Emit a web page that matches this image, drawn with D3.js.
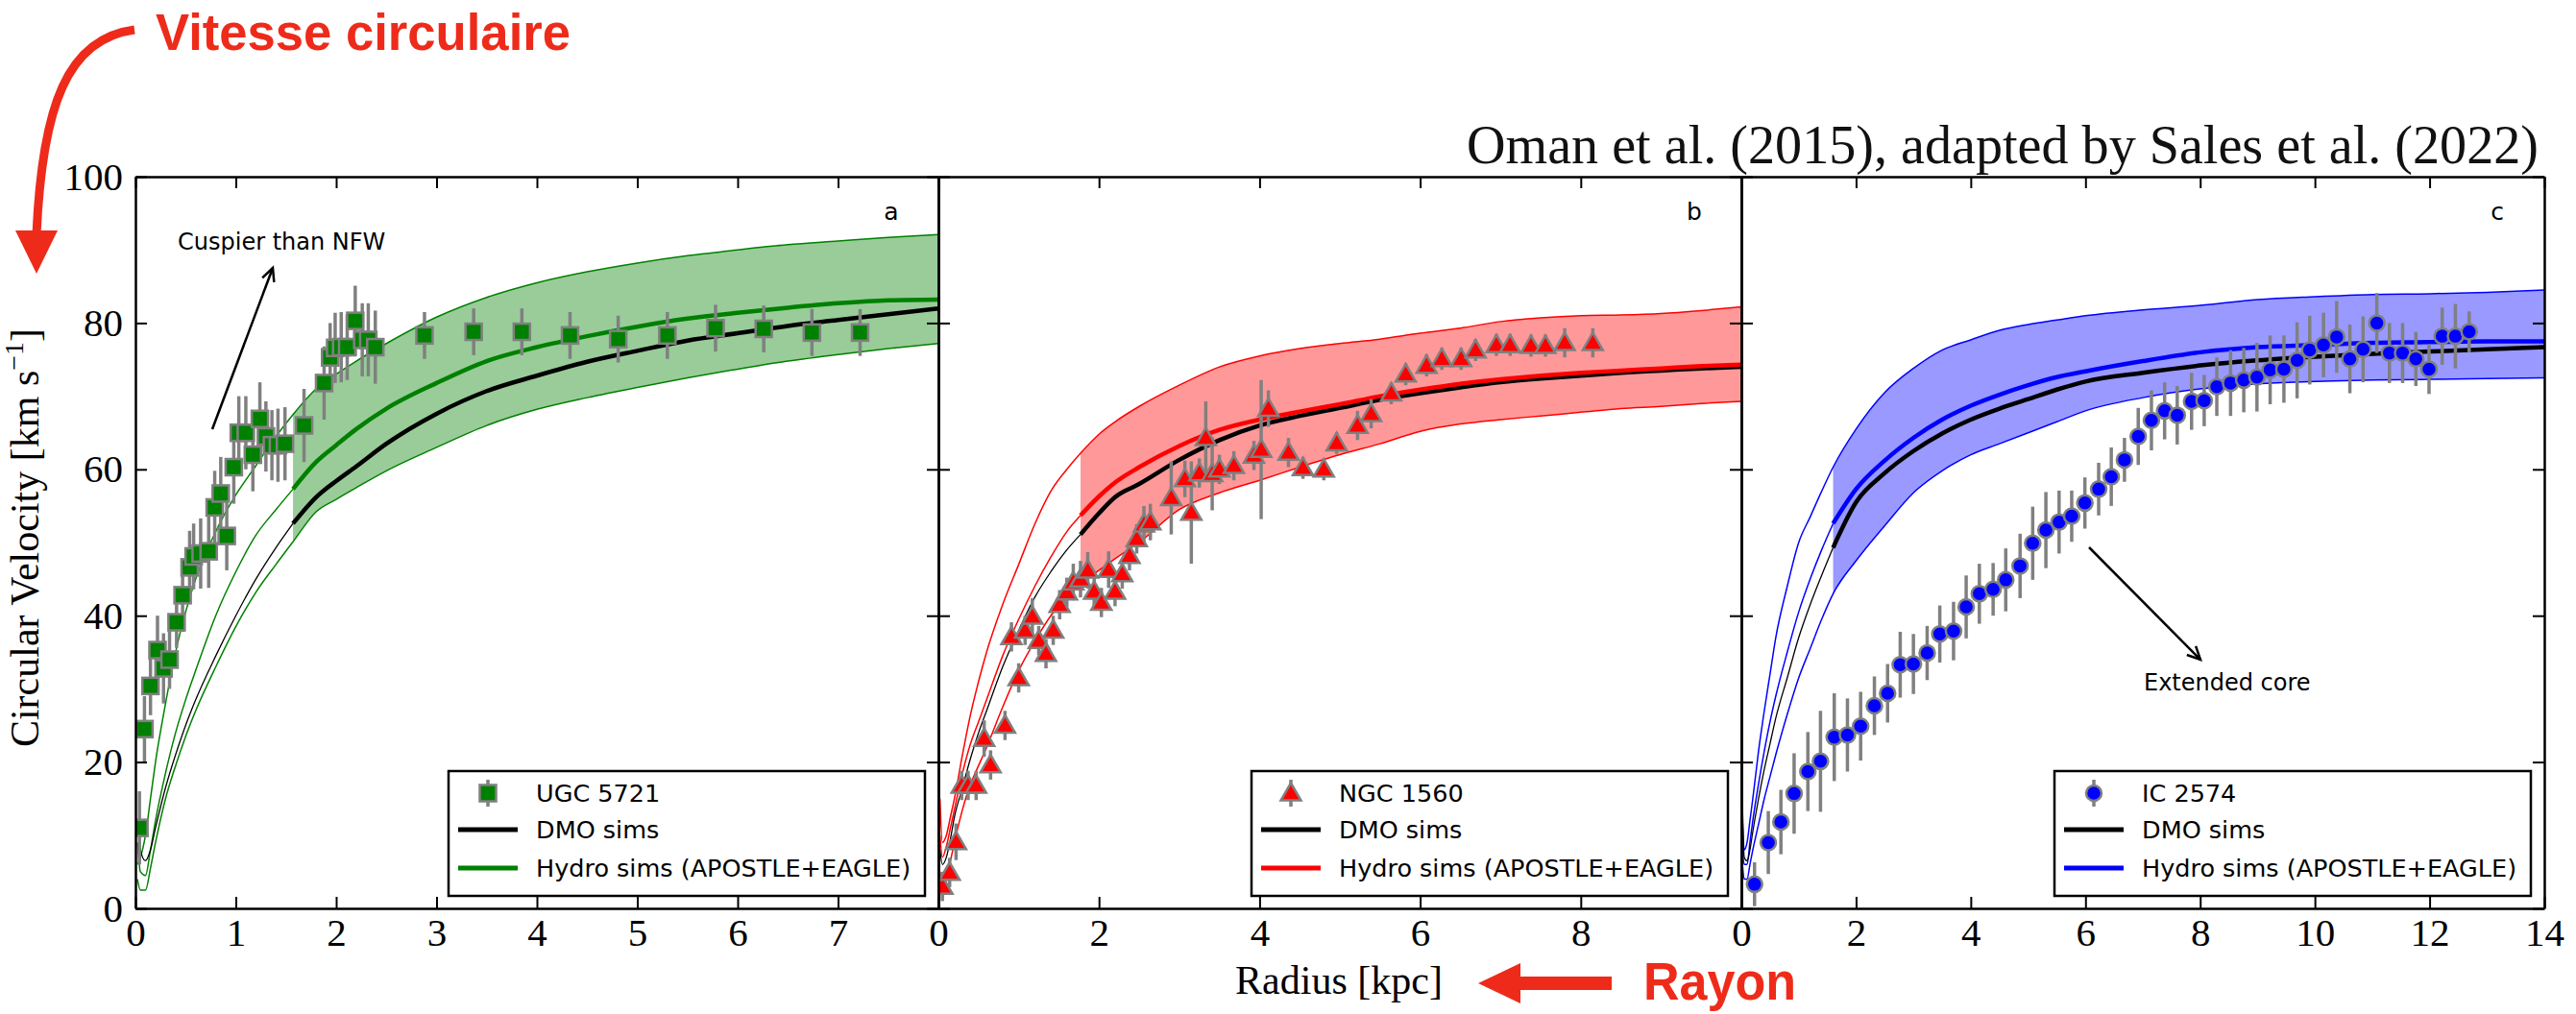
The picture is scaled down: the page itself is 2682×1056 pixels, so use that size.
<!DOCTYPE html>
<html><head><meta charset="utf-8">
<script src="https://cdn.jsdelivr.net/npm/d3@7"></script>
<style>body{margin:0;background:#fff}svg{display:block}</style>
</head><body>
<svg id="chart" width="2682" height="1056"></svg>
<script>
// ---------- tick values ----------
const yTicks = [0, 20, 40, 60, 80, 100];
const xTicksA = [0, 1, 2, 3, 4, 5, 6, 7, 8];
const xTicksB = [0, 2, 4, 6, 8, 10];
const xTicksC = [0, 2, 4, 6, 8, 10, 12, 14];

// ---------- observed rotation curves ----------
const ugcR = [0.04,0.09,0.15,0.22,0.28,0.34,0.41,0.47,0.54,0.58,0.65,0.73,0.79,0.85,0.91,0.98,1.03,1.10,1.17,1.24,1.30,1.36,1.42,1.49,1.68,1.88,1.94,1.99,2.05,2.11,2.19,2.26,2.32,2.39,2.88,3.37,3.85,4.33,4.81,5.30,5.78,6.26,6.74,7.22];
const ugcV = [11.0,24.5,30.4,35.3,32.8,34.0,39.1,42.8,46.6,48.1,48.5,48.8,54.8,56.7,50.9,60.3,65.0,65.0,62.0,66.9,64.5,63.3,63.3,63.5,66.0,71.8,75.3,76.6,76.7,76.7,80.3,77.7,77.7,76.7,78.3,78.8,78.8,78.3,77.8,78.3,79.3,79.2,78.7,78.7];
const ugcErr = [5,4.5,4,4.7,4.8,4,3.5,5,5,4.5,4.8,5,5,5,4.7,5,5,5,5,5,4.8,4.8,5,5,5,5,4.7,4.8,4.8,4.5,4.8,5,5,5,3.2,3.2,3.2,3.2,3.2,3.2,3.2,3.2,3.2,3.2];

const ngcR = [0.05,0.14,0.22,0.29,0.37,0.47,0.57,0.65,0.83,0.91,1.00,1.08,1.17,1.25,1.34,1.43,1.51,1.60,1.68,1.77,1.86,1.94,2.03,2.12,2.20,2.29,2.38,2.47,2.56,2.64,2.90,3.07,3.15,3.25,3.33,3.41,3.50,3.68,3.93,4.02,4.11,4.36,4.54,4.80,4.96,5.22,5.39,5.64,5.82,6.08,6.27,6.51,6.69,6.95,7.12,7.38,7.56,7.80,8.15];
const ngcV = [3.0,4.9,9.1,16.8,16.8,16.8,23.2,19.6,25.0,37.1,31.5,38.0,39.9,36.6,34.8,38.0,41.5,43.2,44.6,45.0,46.2,43.3,41.8,46.3,43.3,45.7,48.2,50.5,52.5,52.8,56.1,58.7,54.1,59.5,64.3,59.4,60.0,60.5,61.9,62.7,68.3,62.3,60.2,60.0,63.6,66.0,67.6,70.4,73.0,74.2,75.1,75.1,76.3,77.0,77.0,76.9,76.9,77.3,77.3];
const ngcErr = [2,2,2.5,2,2,2,2.5,2,2,2,2,2,2.5,2,2,2,2,2,2.5,2.5,2.5,2,2,2.5,2,2,2,2,2.5,2.5,5,2.5,7,2,5,5,2,2,2,9.5,2.5,2,1.5,1.5,1.5,2,2,1.5,1.5,1.5,1.5,1.5,1.5,1.5,1.5,1.5,1.5,2,2];

const icR = [0.23,0.47,0.69,0.92,1.16,1.38,1.62,1.85,2.08,2.32,2.55,2.77,3.00,3.24,3.46,3.70,3.92,4.15,4.39,4.61,4.86,5.08,5.31,5.54,5.76,5.99,6.23,6.45,6.68,6.92,7.15,7.38,7.60,7.85,8.07,8.29,8.53,8.76,8.99,9.22,9.46,9.69,9.91,10.15,10.38,10.61,10.84,11.08,11.30,11.53,11.76,11.99,12.22,12.45,12.69];
const icV = [3.3,9.0,11.8,15.7,18.7,20.1,23.4,23.7,24.9,27.7,29.4,33.3,33.4,34.9,37.5,37.9,41.2,43.0,43.6,44.9,46.8,49.9,51.7,52.8,53.6,55.4,57.3,59.0,61.3,64.5,66.7,68.0,67.4,69.3,69.4,71.3,71.8,72.2,72.6,73.6,73.7,74.9,76.3,77.0,78.1,75.1,76.4,80.0,75.9,75.9,75.1,73.7,78.2,78.2,78.8];
const icErr = [3,4.3,4.4,5.5,5.4,6.9,6,5,4.7,4,4,4.5,4.1,3.7,3.9,4,4.3,4.1,3.6,4.3,4.4,5,5.2,4.3,3.5,3.5,3.6,4,3,3.9,4.1,3.9,4,3.9,3.5,4,4.5,4.4,4.7,4.7,4.6,5.2,4.7,4.4,4.9,4.7,4.5,4.1,4.1,4.1,3.7,3.4,3.9,4.4,2.8];

// ---------- simulation curves (radius grid, band edges, medians) ----------
const simRA   = [0.02,0.05,0.1,0.15,0.2,0.3,0.4,0.5,0.6,0.8,1.0,1.2,1.4,1.57,1.8,2.0,2.2,2.5,3.0,3.5,4.0,4.5,5.0,5.5,6.0,6.5,7.0,7.5,8.0];
const hydroUpA = [6,7,10,15,20,28,35,40.5,45,51.5,56.5,60.5,64.5,67.5,71.0,73.0,74.8,77.2,80.8,83.5,85.5,87.0,88.2,89.2,90.0,90.7,91.2,91.7,92.1];
const hydroLoA = [4,2.5,2.5,5.5,9,15,19.5,23.5,27,33,38.5,43.2,47,50.1,54.2,55.9,57.5,59.8,63.0,66.0,68.2,69.8,71.2,72.5,73.7,74.8,75.7,76.5,77.2];
const hydroMedA = [9,5,4.5,8,12,18.5,24,28.5,32.5,40,46,51,54.5,57.3,61,63.3,65.5,68.3,71.8,74.8,76.7,78.2,79.5,80.6,81.4,82.1,82.7,83.1,83.2];
const dmoA = [12,8,6.5,8,11,16.5,21,25,28.5,34.5,40,45,49.3,52.6,56.2,58.4,60.4,63.5,67.6,70.7,72.8,74.7,76.2,77.6,78.6,79.6,80.4,81.2,82.0];
const convA = 1.57;

const simRB   = [0.02,0.05,0.1,0.15,0.2,0.3,0.4,0.5,0.6,0.8,1.0,1.2,1.4,1.6,1.77,2.0,2.2,2.5,3.0,3.5,4.0,4.5,5.0,5.5,6.0,6.5,7.0,7.5,8.0,8.5,9.0,9.5,10.0];
const hydroUpB = [15,9,10,12.5,15,21,26.5,31,35,41.5,47,52.5,57,60,62.2,64.8,66.5,68.6,71.5,74.0,75.5,76.5,77.2,77.8,78.6,79.3,80.2,80.7,81.0,81.1,81.3,81.7,82.2];
const hydroLoB = [5,3,4,6.5,9,13.5,17,19.5,22,27.5,32.5,36.5,40,42.5,44.3,46.2,47.8,50.0,54.5,56.8,58.5,60.3,62.0,63.5,65.2,66.2,66.8,67.3,67.8,68.3,68.6,69.0,69.3];
const hydroMedB = [10,7,8.5,11,13.5,18.5,22.5,25.5,28.5,34.5,39.5,44,48,51.5,53.7,56.3,58.2,60.3,63.2,65.4,66.8,67.9,68.9,70.0,70.9,71.7,72.3,72.8,73.2,73.5,73.8,74.1,74.3];
const dmoB = [8,6,7,9.5,12.5,16.5,20.5,24,27,33,38,42.5,46,49,51.1,54,56.2,58.0,61.3,64.0,66.0,67.3,68.4,69.5,70.4,71.2,71.9,72.4,72.8,73.2,73.5,73.8,74.0];
const convB = 1.77;

const simRC   = [0.02,0.05,0.1,0.15,0.2,0.3,0.4,0.5,0.6,0.8,1.0,1.2,1.4,1.6,2.0,2.5,3.0,3.5,4.0,4.5,5.0,5.5,6.0,7.0,8.0,9.0,10.0,11.0,12.0,13.0,14.0];
const hydroUpC = [12,8,9,12,15,21.5,27,32,37,44,50,53.5,57,60.3,65.5,70.5,73.8,76.3,77.7,79.0,79.8,80.4,81.0,81.8,82.4,83.2,83.6,83.9,84.0,84.2,84.5];
const hydroLoC = [6,4,4,6,8,11.5,15,18,21,26.5,31.5,35.5,39.5,43.0,47.5,52.3,56.8,59.8,62.0,63.5,65.0,66.5,68.0,69.8,71.0,71.7,72.0,72.2,72.3,72.4,72.5];
const hydroMedC = [8,6,6,9,12,17,21.5,25.5,29,35,40.5,45,49,52.6,57.3,61.2,64.3,66.8,68.7,70.2,71.5,72.6,73.4,74.8,76.0,76.7,77.0,77.3,77.4,77.5,77.5];
const dmoC = [14,7,6.5,8,10.5,15,19,22.5,26,31.5,37,41.5,45.5,49.3,55.5,59.5,62.5,64.9,66.8,68.3,69.6,70.9,72.0,73.2,74.2,74.9,75.4,75.8,76.1,76.4,76.7];
const convC = 1.6;

// ---------- labels ----------
const galaxyNames = ["UGC 5721", "NGC 1560", "IC 2574"];
const panelLetters = ["a", "b", "c"];
const legendDMO = "DMO sims";
const legendHydro = "Hydro sims (APOSTLE+EAGLE)";

// ---------- layout / style ----------
const yTop = 184, yBot = 946;
const panelX = [[141, 977], [977, 1813], [1813, 2649]];
const serif = "'Liberation Serif','DejaVu Serif',serif";
const sans = "'DejaVu Sans','Liberation Sans',sans-serif";
const redAnn = "#ee2b1a";
const gray = "#808080";

const svg = d3.select("#chart");
const defs = svg.append("defs");

const panels = [
  {xmax: 8, ticks: xTicksA, r: ugcR, v: ugcV, e: ugcErr, marker: "square", color: "#008000", band: "#99cc99",
   sr: simRA, up: hydroUpA, lo: hydroLoA, med: hydroMedA, dmo: dmoA, conv: convA, yLabels: true, skipLast: true},
  {xmax: 10, ticks: xTicksB, r: ngcR, v: ngcV, e: ngcErr, marker: "triangle", color: "#ff0000", band: "#ff9999",
   sr: simRB, up: hydroUpB, lo: hydroLoB, med: hydroMedB, dmo: dmoB, conv: convB, yLabels: false, skipLast: true},
  {xmax: 14, ticks: xTicksC, r: icR, v: icV, e: icErr, marker: "circle", color: "#0000ff", band: "#9999ff",
   sr: simRC, up: hydroUpC, lo: hydroLoC, med: hydroMedC, dmo: dmoC, conv: convC, yLabels: false, skipLast: false}
];

function drawMarker(g, type, cx, cy, color) {
  if (type === "square") {
    g.append("rect").attr("x", cx - 8.5).attr("y", cy - 8.5).attr("width", 17).attr("height", 17)
      .attr("fill", color).attr("stroke", gray).attr("stroke-width", 2.5);
  } else if (type === "triangle") {
    g.append("path").attr("transform", `translate(${cx},${cy + 1.5})`)
      .attr("d", d3.symbol(d3.symbolTriangle, 190)())
      .attr("fill", color).attr("stroke", gray).attr("stroke-width", 2.5);
  } else {
    g.append("circle").attr("cx", cx).attr("cy", cy).attr("r", 8)
      .attr("fill", color).attr("stroke", gray).attr("stroke-width", 2.5);
  }
}

panels.forEach((p, i) => {
  const [x0, x1] = panelX[i];
  const x = d3.scaleLinear().domain([0, p.xmax]).range([x0, x1]);
  const y = d3.scaleLinear().domain([0, 100]).range([yBot, yTop]);
  const clipId = "clip" + i;
  defs.append("clipPath").attr("id", clipId).append("rect")
    .attr("x", x0).attr("y", yTop).attr("width", x1 - x0).attr("height", yBot - yTop);
  const g = svg.append("g");
  const plot = g.append("g").attr("clip-path", `url(#${clipId})`);

  const sim = p.sr.map((r, k) => ({r, up: p.up[k], lo: p.lo[k], med: p.med[k], dmo: p.dmo[k]}));
  const outer = sim.filter(d => d.r >= p.conv - 1e-9);
  const inner = sim.filter(d => d.r <= p.conv + 1e-9);

  plot.append("path").datum(outer)
    .attr("d", d3.area().x(d => x(d.r)).y0(d => y(d.lo)).y1(d => y(d.up)).curve(d3.curveMonotoneX))
    .attr("fill", p.band).attr("stroke", "none");

  const line = key => d3.line().x(d => x(d.r)).y(d => y(d[key])).curve(d3.curveMonotoneX);
  ["up", "lo"].forEach(k => plot.append("path").datum(sim).attr("d", line(k))
    .attr("fill", "none").attr("stroke", p.color).attr("stroke-width", 1.5));
  plot.append("path").datum(inner).attr("d", line("med")).attr("fill", "none").attr("stroke", p.color).attr("stroke-width", 1.5);
  plot.append("path").datum(inner).attr("d", line("dmo")).attr("fill", "none").attr("stroke", "#000").attr("stroke-width", 1.3);
  plot.append("path").datum(outer).attr("d", line("dmo")).attr("fill", "none").attr("stroke", "#000").attr("stroke-width", 4.5);
  plot.append("path").datum(outer).attr("d", line("med")).attr("fill", "none").attr("stroke", p.color).attr("stroke-width", 4.5);

  const pts = p.r.map((r, k) => ({r, v: p.v[k], e: p.e[k]}));
  plot.selectAll(null).data(pts).enter().append("line")
    .attr("x1", d => x(d.r)).attr("x2", d => x(d.r))
    .attr("y1", d => y(d.v - d.e)).attr("y2", d => y(d.v + d.e))
    .attr("stroke", gray).attr("stroke-width", 3.5);
  pts.forEach(d => drawMarker(plot, p.marker, x(d.r), y(d.v), p.color));

  const styleAxis = sel => {
    sel.selectAll(".domain").attr("stroke", "#000").attr("stroke-width", 2.5);
    sel.selectAll(".tick line").attr("stroke", "#000").attr("stroke-width", 2);
    sel.selectAll("text").attr("font-family", serif).attr("font-size", 41).attr("fill", "#000");
  };
  g.append("g").attr("transform", `translate(0,${yBot})`)
    .call(d3.axisBottom(x).tickValues(p.ticks).tickSize(-12).tickSizeOuter(0).tickPadding(10)
      .tickFormat(d => (p.skipLast && d === p.xmax) ? "" : d3.format("d")(d)))
    .call(styleAxis);
  g.append("g").attr("transform", `translate(0,${yTop})`)
    .call(d3.axisTop(x).tickValues(p.ticks).tickSize(-12).tickSizeOuter(0).tickFormat(""))
    .call(styleAxis);
  g.append("g").attr("transform", `translate(${x0},0)`)
    .call(d3.axisLeft(y).tickValues(yTicks).tickSize(-12).tickSizeOuter(0).tickPadding(13)
      .tickFormat(p.yLabels ? d3.format("d") : ""))
    .call(styleAxis);
  g.append("g").attr("transform", `translate(${x1},0)`)
    .call(d3.axisRight(y).tickValues(yTicks).tickSize(-12).tickSizeOuter(0).tickFormat(""))
    .call(styleAxis);

  g.append("text").attr("x", x1 - 49).attr("y", 229).attr("text-anchor", "middle")
    .attr("font-family", sans).attr("font-size", 25).text(panelLetters[i]);

  const lx = x1 - 14 - 496, ly = 803;
  const lg = g.append("g");
  lg.append("rect").attr("x", lx).attr("y", ly).attr("width", 496).attr("height", 130)
    .attr("fill", "#fff").attr("stroke", "#000").attr("stroke-width", 2.5);
  lg.append("line").attr("x1", lx + 41).attr("x2", lx + 41).attr("y1", ly + 9).attr("y2", ly + 37)
    .attr("stroke", gray).attr("stroke-width", 3.5);
  drawMarker(lg, p.marker, lx + 41, ly + 23, p.color);
  lg.append("line").attr("x1", lx + 10).attr("x2", lx + 72).attr("y1", ly + 61).attr("y2", ly + 61)
    .attr("stroke", "#000").attr("stroke-width", 5);
  lg.append("line").attr("x1", lx + 10).attr("x2", lx + 72).attr("y1", ly + 101).attr("y2", ly + 101)
    .attr("stroke", p.color).attr("stroke-width", 5);
  [[galaxyNames[i], 23], [legendDMO, 61], [legendHydro, 101]].forEach(([t, yy]) => {
    lg.append("text").attr("x", lx + 91).attr("y", ly + yy + 9).attr("font-family", sans)
      .attr("font-size", 25.5).attr("fill", "#000").text(t);
  });
});

function openArrow(x1, y1, x2, y2) {
  const a = Math.atan2(y2 - y1, x2 - x1), L = 15, s = 0.45;
  svg.append("line").attr("x1", x1).attr("y1", y1).attr("x2", x2).attr("y2", y2)
    .attr("stroke", "#000").attr("stroke-width", 2.5);
  svg.append("path").attr("d",
    `M${x2 - L * Math.cos(a - s)},${y2 - L * Math.sin(a - s)} L${x2},${y2} L${x2 - L * Math.cos(a + s)},${y2 - L * Math.sin(a + s)}`)
    .attr("fill", "none").attr("stroke", "#000").attr("stroke-width", 2.5);
}
openArrow(221, 447, 284, 279);
svg.append("text").attr("x", 185).attr("y", 260).attr("font-family", sans).attr("font-size", 24).text("Cuspier than NFW");
openArrow(2175, 570, 2291, 687);
svg.append("text").attr("x", 2232).attr("y", 719).attr("font-family", sans).attr("font-size", 24).text("Extended core");

const yl = svg.append("text").attr("transform", "translate(40,560) rotate(-90)").attr("text-anchor", "middle")
  .attr("font-family", serif).attr("font-size", 42).attr("fill", "#000");
yl.append("tspan").text("Circular Velocity [km s");
yl.append("tspan").attr("font-size", 28).attr("dy", -16).text("−1");
yl.append("tspan").attr("dy", 16).text("]");

svg.append("text").attr("x", 1394).attr("y", 1035).attr("text-anchor", "middle")
  .attr("font-family", serif).attr("font-size", 42).attr("fill", "#000").text("Radius [kpc]");

svg.append("text").attr("x", 1527).attr("y", 170).attr("font-family", serif).attr("font-size", 58)
  .attr("textLength", 1116).attr("lengthAdjust", "spacingAndGlyphs").attr("fill", "#111")
  .text("Oman et al. (2015), adapted by Sales et al. (2022)");

svg.append("text").attr("x", 162).attr("y", 52).attr("font-family", "'Liberation Sans',Arial,sans-serif")
  .attr("font-weight", "bold").attr("font-size", 54).attr("fill", redAnn)
  .attr("textLength", 432).attr("lengthAdjust", "spacingAndGlyphs").text("Vitesse circulaire");
svg.append("path").attr("d", "M140,31 C70,40 44,110 38,244")
  .attr("fill", "none").attr("stroke", redAnn).attr("stroke-width", 9);
svg.append("path").attr("d", "M16,240 L60,240 L38,285 Z").attr("fill", redAnn);

svg.append("text").attr("x", 1711).attr("y", 1041).attr("font-family", "'Liberation Sans',Arial,sans-serif")
  .attr("font-weight", "bold").attr("font-size", 55).attr("fill", redAnn)
  .attr("textLength", 159).attr("lengthAdjust", "spacingAndGlyphs").text("Rayon");
svg.append("path").attr("d", "M1539,1024 L1583,1003 L1583,1017 L1678,1017 L1678,1031 L1583,1031 L1583,1045 Z")
  .attr("fill", redAnn);
</script>
</body></html>
